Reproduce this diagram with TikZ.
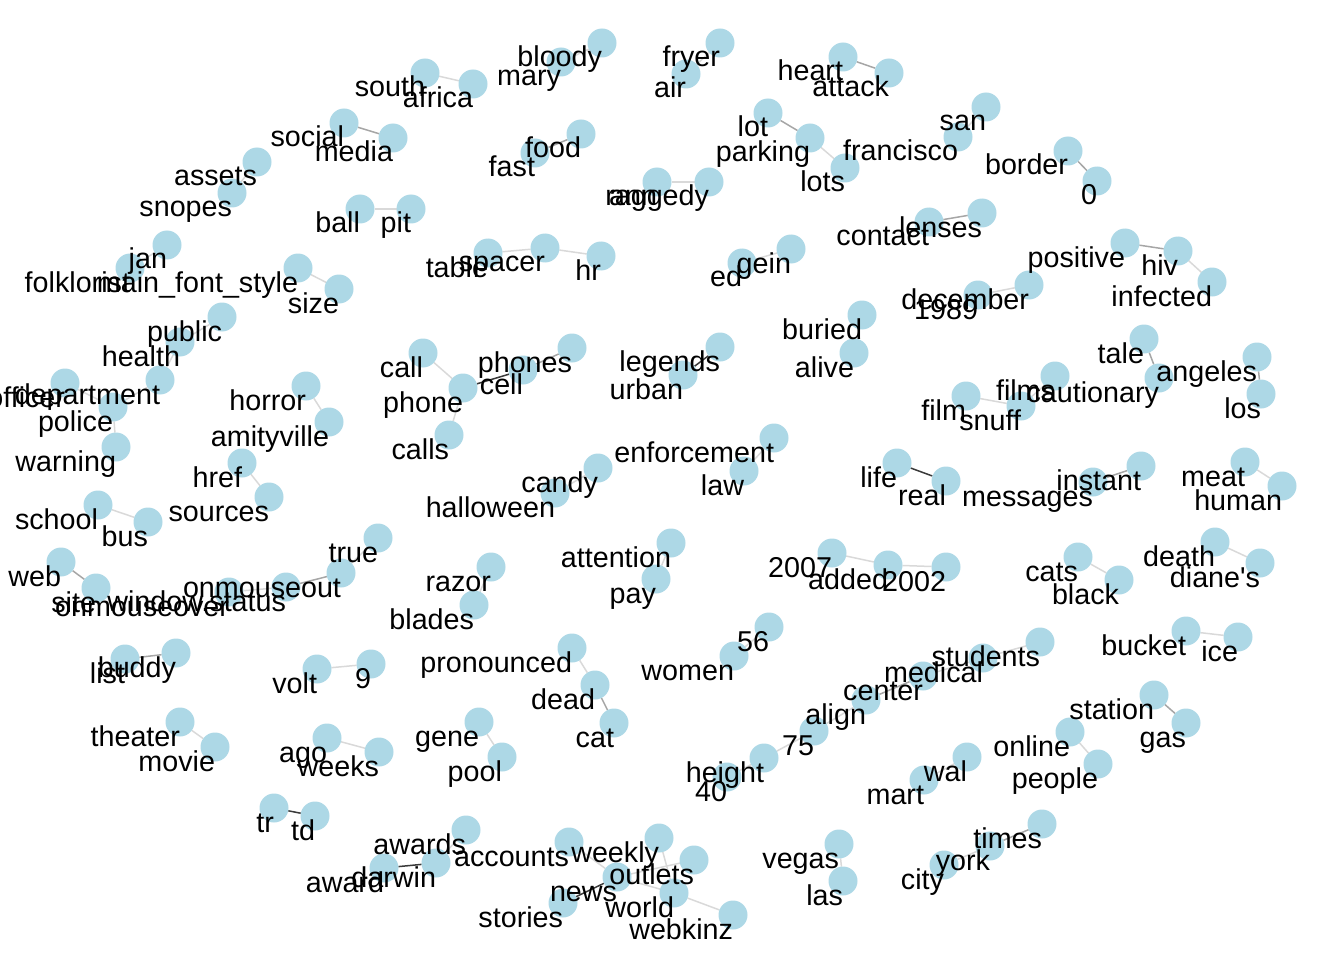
\documentclass[tikz,border=0pt]{standalone}
\usepackage{fontspec}
\newfontfamily\lbfont{Liberation Sans}
\definecolor{lb}{HTML}{ADD8E6}
\definecolor{eLc}{HTML}{D9D9D9}
\definecolor{eMc}{HTML}{A6A6A6}
\definecolor{eDc}{HTML}{3A3A3A}
\pgfdeclarelayer{bg}
\pgfdeclarelayer{fg}
\pgfsetlayers{bg,main,fg}
\tikzset{
  vert/.style={circle, fill=lb, minimum size=29pt, inner sep=0pt, outer sep=0pt},
  lbl/.style={anchor=base east, inner sep=0pt, outer sep=0pt, font=\lbfont\fontsize{28.7}{30}\selectfont},
  eL/.style={draw=eLc, line width=1.5pt},
  eM/.style={draw=eMc, line width=1.5pt},
  eD/.style={draw=eDc, line width=1.5pt},
}
\newcommand\wordnode[4]{%
  \node[vert] (#1) at (#2,#3) {};
  \begin{pgfonlayer}{fg}\node[lbl] (#1-t) at (#2,#3+24) {#4};\end{pgfonlayer}}
\begin{document}
\begin{tikzpicture}[x=1pt,y=-1pt]
\useasboundingbox (0,0) rectangle (1344,960);
\clip (0,0) rectangle (1344,960);
\wordnode{south}{425}{73}{south}
\wordnode{africa}{473}{84}{africa}
\wordnode{bloody}{602}{43}{bloody}
\wordnode{mary}{561}{62}{mary}
\wordnode{fryer}{720}{43}{fryer}
\wordnode{air}{686}{74}{air}
\wordnode{heart}{843}{57}{heart}
\wordnode{attack}{889}{73}{attack}
\wordnode{social}{344}{123}{social}
\wordnode{media}{393}{138}{media}
\wordnode{food}{581}{134}{food}
\wordnode{fast}{535}{153}{fast}
\wordnode{lot}{768}{113}{lot}
\wordnode{parking}{810}{138}{parking}
\wordnode{lots}{845}{168}{lots}
\wordnode{san}{986}{107}{san}
\wordnode{francisco}{958}{137}{francisco}
\wordnode{border}{1068}{151}{border}
\wordnode{zero}{1097}{181}{0}
\wordnode{assets}{257}{162}{assets}
\wordnode{snopes}{232}{193}{snopes}
\wordnode{raggedy}{709}{182}{raggedy}
\wordnode{ann}{657}{182}{ann}
\wordnode{ball}{360}{209}{ball}
\wordnode{pit}{411}{209}{pit}
\wordnode{lenses}{982}{213}{lenses}
\wordnode{contact}{929}{222}{contact}
\wordnode{jan}{167}{245}{jan}
\wordnode{table}{488}{253}{table}
\wordnode{spacer}{545}{248}{spacer}
\wordnode{hr}{601}{256}{hr}
\wordnode{ed}{742}{263}{ed}
\wordnode{gein}{791}{249}{gein}
\wordnode{positive}{1125}{243}{positive}
\wordnode{hiv}{1178}{251}{hiv}
\wordnode{infected}{1212}{282}{infected}
\wordnode{folklorist}{130}{268}{folklorist}
\wordnode{mainfont}{298}{268}{main\_font\_style}
\wordnode{size}{339}{289}{size}
\wordnode{december}{1029}{285}{december}
\wordnode{yr1989}{978}{295}{1989}
\wordnode{buried}{862}{315}{buried}
\wordnode{alive}{854}{353}{alive}
\wordnode{public}{222}{317}{public}
\wordnode{health}{180}{342}{health}
\wordnode{department}{160}{380}{department}
\wordnode{officer}{65}{383}{officer}
\wordnode{police}{113}{407}{police}
\wordnode{warning}{116}{447}{warning}
\wordnode{call}{423}{353}{call}
\wordnode{phone}{463}{388}{phone}
\wordnode{calls}{449}{435}{calls}
\wordnode{cell}{523}{370}{cell}
\wordnode{phones}{572}{348}{phones}
\wordnode{legends}{720}{347}{legends}
\wordnode{urban}{683}{375}{urban}
\wordnode{tale}{1144}{339}{tale}
\wordnode{cautionary}{1159}{378}{cautionary}
\wordnode{films}{1055}{376}{films}
\wordnode{film}{966}{396}{film}
\wordnode{snuff}{1021}{406}{snuff}
\wordnode{angeles}{1257}{357}{angeles}
\wordnode{los}{1261}{394}{los}
\wordnode{horror}{306}{386}{horror}
\wordnode{amityville}{329}{422}{amityville}
\wordnode{enforcement}{774}{438}{enforcement}
\wordnode{law}{744}{471}{law}
\wordnode{href}{242}{463}{href}
\wordnode{sources}{269}{497}{sources}
\wordnode{candy}{598}{468}{candy}
\wordnode{halloween}{555}{493}{halloween}
\wordnode{life}{897}{463}{life}
\wordnode{real}{946}{481}{real}
\wordnode{instant}{1141}{466}{instant}
\wordnode{messages}{1093}{482}{messages}
\wordnode{meat}{1245}{462}{meat}
\wordnode{human}{1282}{486}{human}
\wordnode{school}{98}{505}{school}
\wordnode{bus}{148}{522}{bus}
\wordnode{true}{378}{538}{true}
\wordnode{onmouseout}{341}{573}{onmouseout}
\wordnode{attention}{671}{543}{attention}
\wordnode{pay}{656}{579}{pay}
\wordnode{yr2007}{832}{553}{2007}
\wordnode{added}{888}{565}{added}
\wordnode{yr2002}{946}{567}{2002}
\wordnode{cats}{1078}{557}{cats}
\wordnode{black}{1119}{580}{black}
\wordnode{death}{1215}{542}{death}
\wordnode{dianes}{1260}{563}{diane's}
\wordnode{web}{61}{562}{web}
\wordnode{site}{96}{588}{site}
\wordnode{onmouseover}{229}{592}{onmouseover}
\wordnode{wstatus}{286}{587}{window.status}
\wordnode{razor}{491}{567}{razor}
\wordnode{blades}{474}{605}{blades}
\wordnode{n56}{769}{627}{56}
\wordnode{women}{734}{656}{women}
\wordnode{students}{1040}{642}{students}
\wordnode{medical}{983}{658}{medical}
\wordnode{center}{923}{676}{center}
\wordnode{align}{866}{700}{align}
\wordnode{n75}{814}{731}{75}
\wordnode{height}{764}{758}{height}
\wordnode{n40}{727}{777}{40}
\wordnode{bucket}{1186}{631}{bucket}
\wordnode{ice}{1238}{637}{ice}
\wordnode{pronounced}{572}{648}{pronounced}
\wordnode{dead}{595}{685}{dead}
\wordnode{cat}{614}{723}{cat}
\wordnode{buddy}{176}{653}{buddy}
\wordnode{list}{125}{659}{list}
\wordnode{volt}{317}{669}{volt}
\wordnode{nine}{371}{664}{9}
\wordnode{station}{1154}{695}{station}
\wordnode{gas}{1186}{723}{gas}
\wordnode{theater}{180}{722}{theater}
\wordnode{movie}{215}{747}{movie}
\wordnode{ago}{327}{738}{ago}
\wordnode{weeks}{379}{752}{weeks}
\wordnode{gene}{479}{722}{gene}
\wordnode{pool}{502}{757}{pool}
\wordnode{online}{1070}{732}{online}
\wordnode{people}{1098}{764}{people}
\wordnode{wal}{967}{757}{wal}
\wordnode{mart}{924}{780}{mart}
\wordnode{tr}{274}{808}{tr}
\wordnode{td}{315}{816}{td}
\wordnode{awards}{466}{830}{awards}
\wordnode{darwin}{436}{863}{darwin}
\wordnode{award}{384}{868}{award}
\wordnode{accounts}{569}{842}{accounts}
\wordnode{weekly}{659}{838}{weekly}
\wordnode{outlets}{694}{860}{outlets}
\wordnode{news}{617}{877}{news}
\wordnode{world}{674}{893}{world}
\wordnode{webkinz}{733}{915}{webkinz}
\wordnode{stories}{563}{903}{stories}
\wordnode{vegas}{839}{844}{vegas}
\wordnode{las}{843}{881}{las}
\wordnode{times}{1042}{824}{times}
\wordnode{york}{990}{846}{york}
\wordnode{city}{944}{865}{city}
\begin{pgfonlayer}{bg}
\draw[eL] (south) -- (africa);
\draw[eL] (bloody) -- (mary);
\draw[eL] (fryer) -- (air);
\draw[eM] (heart) -- (attack);
\draw[eM] (social) -- (media);
\draw[eM] (food) -- (fast);
\draw[eM] (lot) -- (parking);
\draw[eL] (parking) -- (lots);
\draw[eL] (san) -- (francisco);
\draw[eM] (border) -- (zero);
\draw[eL] (assets) -- (snopes);
\draw[eL] (raggedy) -- (ann);
\draw[eL] (ball) -- (pit);
\draw[eM] (contact) -- (lenses);
\draw[eL] (jan) -- (folklorist);
\draw[eL] (table) -- (spacer);
\draw[eL] (spacer) -- (hr);
\draw[eL] (ed) -- (gein);
\draw[eM] (positive) -- (hiv);
\draw[eL] (hiv) -- (infected);
\draw[eL] (mainfont) -- (size);
\draw[eL] (december) -- (yr1989);
\draw[eL] (buried) -- (alive);
\draw[eL] (public) -- (health);
\draw[eL] (health) -- (department);
\draw[eL] (department) -- (police);
\draw[eL] (officer) -- (police);
\draw[eL] (police) -- (warning);
\draw[eL] (call) -- (phone);
\draw[eL] (phone) -- (calls);
\draw[eD] (phone) -- (cell);
\draw[eM] (cell) -- (phones);
\draw[eD] (urban) -- (legends);
\draw[eM] (tale) -- (cautionary);
\draw[eL] (film) -- (snuff);
\draw[eL] (snuff) -- (films);
\draw[eM] (angeles) -- (los);
\draw[eL] (horror) -- (amityville);
\draw[eL] (enforcement) -- (law);
\draw[eL] (href) -- (sources);
\draw[eL] (candy) -- (halloween);
\draw[eD] (life) -- (real);
\draw[eM] (instant) -- (messages);
\draw[eL] (meat) -- (human);
\draw[eL] (school) -- (bus);
\draw[eL] (true) -- (onmouseout);
\draw[eL] (attention) -- (pay);
\draw[eL] (yr2007) -- (added);
\draw[eL] (added) -- (yr2002);
\draw[eL] (cats) -- (black);
\draw[eL] (death) -- (dianes);
\draw[eM] (web) -- (site);
\draw[eL] (onmouseover) -- (wstatus);
\draw[eM] (wstatus) -- (onmouseout);
\draw[eL] (razor) -- (blades);
\draw[eL] (n56) -- (women);
\draw[eL] (students) -- (medical);
\draw[eL] (medical) -- (center);
\draw[eM] (center) -- (align);
\draw[eL] (align) -- (n75);
\draw[eL] (n75) -- (height);
\draw[eL] (height) -- (n40);
\draw[eL] (bucket) -- (ice);
\draw[eL] (pronounced) -- (dead);
\draw[eM] (dead) -- (cat);
\draw[eM] (list) -- (buddy);
\draw[eL] (volt) -- (nine);
\draw[eM] (station) -- (gas);
\draw[eL] (theater) -- (movie);
\draw[eL] (ago) -- (weeks);
\draw[eL] (gene) -- (pool);
\draw[eL] (online) -- (people);
\draw[eL] (wal) -- (mart);
\draw[eD] (tr) -- (td);
\draw[eL] (awards) -- (darwin);
\draw[eD] (darwin) -- (award);
\draw[eL] (accounts) -- (news);
\draw[eD] (news) -- (stories);
\draw[eL] (news) -- (outlets);
\draw[eL] (news) -- (world);
\draw[eL] (world) -- (weekly);
\draw[eL] (world) -- (webkinz);
\draw[eL] (vegas) -- (las);
\draw[eM] (times) -- (york);
\draw[eL] (york) -- (city);
\end{pgfonlayer}
\end{tikzpicture}
\end{document}
